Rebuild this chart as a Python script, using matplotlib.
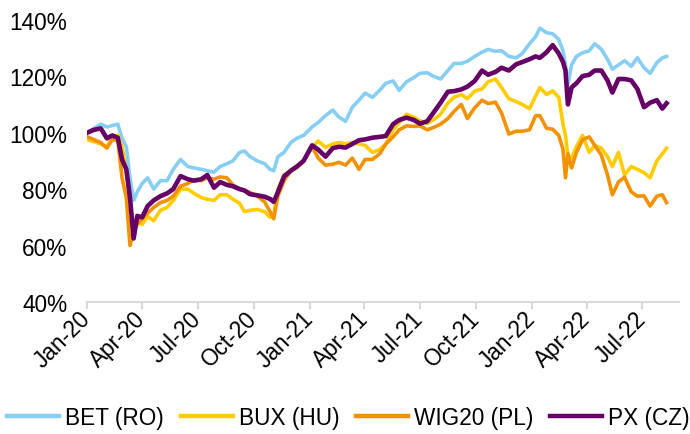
import matplotlib
matplotlib.use("Agg")
import matplotlib.pyplot as plt
import matplotlib.dates as mdates
import numpy as np
import pandas as pd

dates = ["2020-01-02","2020-01-13","2020-01-24","2020-02-03","2020-02-12","2020-02-21","2020-02-28",
         "2020-03-06","2020-03-12","2020-03-18","2020-03-24","2020-04-01","2020-04-10","2020-04-20",
         "2020-05-01","2020-05-12","2020-05-22","2020-06-03","2020-06-15","2020-06-25","2020-07-07",
         "2020-07-17","2020-07-28","2020-08-07","2020-08-18","2020-08-28","2020-09-08","2020-09-16",
         "2020-09-25","2020-10-07","2020-10-19","2020-10-28","2020-11-03","2020-11-10","2020-11-20",
         "2020-12-01","2020-12-11","2020-12-22","2021-01-05","2021-01-15","2021-01-27","2021-02-08",
         "2021-02-18","2021-03-01","2021-03-12","2021-03-23","2021-04-02","2021-04-14","2021-04-26",
         "2021-05-06","2021-05-18","2021-05-28","2021-06-09","2021-06-21","2021-07-01","2021-07-13",
         "2021-07-23","2021-08-04","2021-08-16","2021-08-26","2021-09-07","2021-09-17","2021-09-29",
         "2021-10-11","2021-10-21","2021-11-02","2021-11-12","2021-11-24","2021-12-06","2021-12-16",
         "2021-12-28","2022-01-07","2022-01-14","2022-01-25","2022-02-04","2022-02-14","2022-02-21",
         "2022-02-25","2022-03-01","2022-03-07","2022-03-15","2022-03-25","2022-04-05","2022-04-14",
         "2022-04-25","2022-05-05","2022-05-13","2022-05-23","2022-06-02","2022-06-13","2022-06-23",
         "2022-07-04","2022-07-14","2022-07-25","2022-08-03","2022-08-10"]

bet_ro = [100, 101.5, 103, 102, 102.5, 103, 98, 95, 84, 76, 79, 82, 84, 80, 83, 83, 87, 90.5, 88, 87.5,
          87, 86.5, 86, 88, 89, 90, 93, 93.5, 91.5, 90, 89, 87, 86.5, 91.5, 93, 96.5, 98, 99, 102, 103.6,
          106, 108, 105.5, 104, 109, 111.5, 114, 112.5, 115, 117.5, 118.3, 115, 118, 119.5, 121, 121.2,
          120, 119, 122, 124.5, 124.5, 125.3, 127, 128.5, 129.5, 128.8, 129, 127, 126.5, 128, 131.5,
          134, 137, 135.4, 135, 133, 129, 124, 117, 124, 127, 128.3, 129, 131.5, 129.5, 126, 122.5,
          124, 125.5, 123.5, 126.5, 123, 121, 124.8, 126.5, 127]

bux_hu = [97.5, 96.8, 96, 95, 98.5, 99, 95, 86, 76, 66, 68.5, 67.5, 70.3, 68.8, 72.5, 73.5, 76, 80, 80,
          78.5, 77, 76.4, 76, 78, 78, 76.4, 75, 72, 72.5, 72.8, 72, 70, 71, 80, 85, 86.5, 87.5, 90, 95,
          97, 94.8, 96, 96.5, 96, 96.5, 96, 95.5, 93, 94, 96, 101, 103.5, 106.5, 105.5, 104.2, 103.3,
          104.5, 106.5, 110.5, 112.5, 113.5, 112, 114.7, 115.5, 118, 119, 116, 112, 111, 110, 108.5,
          113, 116, 113.5, 114.8, 112.5, 103, 99, 91.7, 91, 95, 99, 93, 95.5, 94.5, 91.5, 88, 93, 85,
          88, 87, 85.8, 84, 90, 92.5, 94.5]

wig20_pl = [98.5, 97.5, 96.5, 94.5, 97.5, 97.3, 84, 77, 60, 65, 67.5, 69.5, 71.5, 73.5, 75.2, 76, 77.5,
            81, 82, 83.2, 83, 84, 83.5, 84.3, 84, 81.5, 80, 79.5, 78.8, 77.5, 75.5, 72, 69.5, 77.6, 83,
            86.5, 88, 90, 95, 91, 88.5, 88.8, 89.5, 88.5, 91, 87, 90.5, 90.5, 92.5, 96, 98.5, 101,
            102.4, 102.2, 102.4, 101, 101.8, 103, 105, 107.5, 110, 105, 108.8, 111.5, 110.3, 110.8, 107,
            99.5, 100.5, 100.5, 101, 106, 106, 101.5, 101.2, 99, 94, 84, 92.5, 87.5, 93, 97.5, 98.5,
            95.5, 92, 85, 78, 82.5, 84.2, 79, 77.5, 77.6, 74, 77.5, 78, 75.2]

px_cz = [100, 101, 101.5, 98, 99, 98.2, 90.5, 87, 77, 62.5, 70.5, 70, 74, 76, 77.5, 78.5, 80, 84.6, 83.5,
         83, 83.5, 85, 80.5, 82.5, 81.5, 81, 80, 79.5, 78.2, 77.8, 77.3, 76.5, 75.5, 79, 84.5, 86.5, 88,
         90, 95.5, 94, 91.5, 94.5, 95, 94.7, 96, 97.3, 97.6, 98.2, 98.5, 98.8, 103, 104.5, 105.3, 104.5,
         103.2, 104, 107, 110.6, 114.5, 114.7, 115.3, 116.3, 118.3, 122, 120.5, 121.5, 123, 122, 124.2,
         125, 126, 127, 126.5, 128.5, 131, 128, 125, 122, 110, 116, 117.5, 120, 120.5, 122, 122, 118.5,
         114.2, 119, 119, 118.5, 115.5, 109, 110.6, 111.5, 108.5, 110.4]

series_names = ["BET (RO)", "BUX (HU)", "WIG20 (PL)", "PX (CZ)"]
colors = ["#86CFF2", "#FFCC00", "#F39200", "#660066"]
widths = [2.6, 2.6, 2.6, 3.3]

plt.rcParams['font.family'] = ['Liberation Sans', 'DejaVu Sans']

fig = plt.figure(figsize=(6.9, 4.35), dpi=100)
ax = fig.add_axes([0.1257, 0.3034, 0.858, 0.649])

x = pd.to_datetime(dates)
for vals, name, c, w in zip([bet_ro, bux_hu, wig20_pl, px_cz], series_names, colors, widths):
    ax.plot(x, np.array(vals) / 100.0, color=c, lw=w, label=name, solid_joinstyle='round')

ax.set_ylim(0.4, 1.4)
ax.set_yticks(np.arange(0.4, 1.41, 0.2))
ax.set_yticklabels([f"{int(round(v*100))}%" for v in np.arange(0.4, 1.41, 0.2)])
ax.set_xlim(pd.Timestamp("2020-01-01"), pd.Timestamp("2022-08-30"))
ax.xaxis.set_major_locator(mdates.MonthLocator(bymonth=[1, 4, 7, 10]))
ax.xaxis.set_major_formatter(mdates.DateFormatter("%b-%y"))

for s in ["top", "right", "left"]:
    ax.spines[s].set_visible(False)
ax.spines["bottom"].set_color("#D9D9D9")
ax.spines["bottom"].set_linewidth(1.5)
ax.tick_params(axis='y', length=0, pad=14, labelsize=16.3, colors='#000000')
ax.tick_params(axis='x', length=5, width=1.5, color='#D9D9D9', pad=4, labelsize=16.3)
for lab in ax.get_xticklabels():
    lab.set_rotation(45)
    lab.set_ha('right')
    lab.set_va('center')
    lab.set_rotation_mode('anchor')

leg = fig.legend(loc='lower center', bbox_to_anchor=(0.505, -0.02), ncol=4, frameon=False,
                 fontsize=16.3, handlelength=2.3, handletextpad=0.25, columnspacing=0.75,
                 borderaxespad=0.2)
for h in leg.get_lines():
    h.set_linewidth(3.2)

fig.savefig("out.png", dpi=100)
